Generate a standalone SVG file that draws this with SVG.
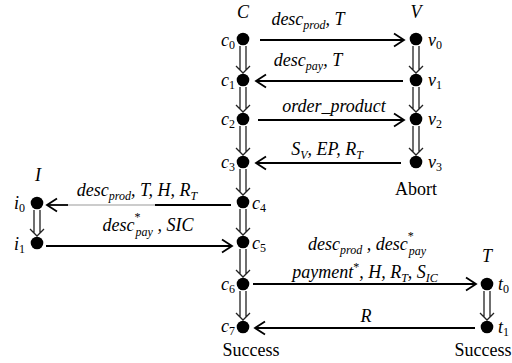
<svg xmlns="http://www.w3.org/2000/svg" width="512" height="363" viewBox="0 0 512 363">
<style>
text{font-family:"Liberation Serif","Times New Roman",serif;font-size:18px;fill:#000}
.it{font-style:italic}
.rm{font-style:normal}
.sb{font-size:12px}
.dot{fill:#000}
.h{stroke:#000;stroke-width:1.8;fill:none}
.d{stroke:#222;stroke-width:1.3;fill:none}
.lbl{text-anchor:middle}
</style>
<defs>
<marker id="ah" markerUnits="userSpaceOnUse" markerWidth="14" markerHeight="16" viewBox="0 0 14 16" refX="12" refY="8" orient="auto">
<path d="M2,1.5 L12,8 L2,14.5" fill="none" stroke="#000" stroke-width="1.8"/>
</marker>
</defs>
<rect width="512" height="363" fill="#fff"/>

<g id="connectors">
<path class="d" d="M240,46V70M246,46V70M236,66L243,73L250,66"/>
<path class="d" d="M240,87V109M246,87V109M236,105L243,112L250,105"/>
<path class="d" d="M240,126V152M246,126V152M236,148L243,155L250,148"/>
<path class="d" d="M240,169V192M246,169V192M236,188L243,195L250,188"/>
<path class="d" d="M240,209V232M246,209V232M236,228L243,235L250,228"/>
<path class="d" d="M240,249V274M246,249V274M236,270L243,277L250,270"/>
<path class="d" d="M240,291V317M246,291V317M236,313L243,320L250,313"/>
<path class="d" d="M413,46V70M419,46V70M409,66L416,73L423,66"/>
<path class="d" d="M413,87V109M419,87V109M409,105L416,112L423,105"/>
<path class="d" d="M413,126V152M419,126V152M409,148L416,155L423,148"/>
<path class="d" d="M34,210V233M40,210V233M30,229L37,236L44,229"/>
<path class="d" d="M484,291V317M490,291V317M480,313L487,320L494,313"/>
<line class="h" x1="260" y1="40" x2="404" y2="40" marker-end="url(#ah)"/>
<line class="h" x1="403" y1="81" x2="256" y2="81" marker-end="url(#ah)"/>
<line class="h" x1="258" y1="120" x2="404" y2="120" marker-end="url(#ah)"/>
<line class="h" x1="401" y1="163" x2="256" y2="163" marker-end="url(#ah)"/>
<line class="h" x1="231" y1="205" x2="155" y2="205"/>
<line x1="155" y1="205" x2="68" y2="205" stroke="#bbb" stroke-width="1.5"/>
<line class="h" x1="68" y1="205" x2="47" y2="205" marker-end="url(#ah)"/>
<line class="h" x1="46" y1="246" x2="232" y2="246" marker-end="url(#ah)"/>
<line class="h" x1="253" y1="284" x2="476" y2="284" marker-end="url(#ah)"/>
<line class="h" x1="475" y1="328" x2="255" y2="328" marker-end="url(#ah)"/>
</g>

<g id="C">
<text class="it lbl" x="243" y="18">C</text>
<circle class="dot" cx="243" cy="39" r="6.3"/><text class="it" x="235" y="46" text-anchor="end">c<tspan class="sb rm" dy="3">0</tspan></text>
<circle class="dot" cx="243" cy="80" r="6.3"/><text class="it" x="235" y="86" text-anchor="end">c<tspan class="sb rm" dy="3">1</tspan></text>
<circle class="dot" cx="243" cy="119" r="6.3"/><text class="it" x="235" y="125" text-anchor="end">c<tspan class="sb rm" dy="3">2</tspan></text>
<circle class="dot" cx="243" cy="162" r="6.3"/><text class="it" x="235" y="168" text-anchor="end">c<tspan class="sb rm" dy="3">3</tspan></text>
<circle class="dot" cx="243" cy="202" r="6.3"/><text class="it" x="252" y="209">c<tspan class="sb rm" dy="3">4</tspan></text>
<circle class="dot" cx="243" cy="242" r="6.3"/><text class="it" x="252" y="249">c<tspan class="sb rm" dy="3">5</tspan></text>
<circle class="dot" cx="243" cy="284" r="6.3"/><text class="it" x="235" y="290" text-anchor="end">c<tspan class="sb rm" dy="3">6</tspan></text>
<circle class="dot" cx="243" cy="327" r="6.3"/><text class="it" x="235" y="332" text-anchor="end">c<tspan class="sb rm" dy="3">7</tspan></text>
<text class="rm lbl" x="251" y="356">Success</text>
</g>

<g id="V">
<text class="it lbl" x="416" y="18">V</text>
<circle class="dot" cx="416" cy="39" r="6.3"/><text class="it" x="428" y="46">v<tspan class="sb rm" dy="3">0</tspan></text>
<circle class="dot" cx="416" cy="80" r="6.3"/><text class="it" x="428" y="86">v<tspan class="sb rm" dy="3">1</tspan></text>
<circle class="dot" cx="416" cy="119" r="6.3"/><text class="it" x="428" y="125">v<tspan class="sb rm" dy="3">2</tspan></text>
<circle class="dot" cx="416" cy="162" r="6.3"/><text class="it" x="428" y="168">v<tspan class="sb rm" dy="3">3</tspan></text>
<text class="rm lbl" x="416" y="195">Abort</text>
</g>

<g id="I">
<text class="it lbl" x="38" y="181">I</text>
<circle class="dot" cx="37" cy="203" r="6.3"/><text class="it" x="25" y="209" text-anchor="end">i<tspan class="sb rm" dy="3">0</tspan></text>
<circle class="dot" cx="37" cy="243" r="6.3"/><text class="it" x="25" y="250" text-anchor="end">i<tspan class="sb rm" dy="3">1</tspan></text>
</g>

<g id="T">
<text class="it lbl" x="487" y="262">T</text>
<circle class="dot" cx="487" cy="284" r="6.3"/><text class="it" x="498" y="290">t<tspan class="sb rm" dy="3">0</tspan></text>
<circle class="dot" cx="487" cy="327" r="6.3"/><text class="it" x="498" y="333">t<tspan class="sb rm" dy="3">1</tspan></text>
<text class="rm lbl" x="483" y="356">Success</text>
</g>

<g id="labels">
<text class="it lbl" x="308" y="25">desc<tspan class="sb" dy="4">prod</tspan><tspan dy="-4">, T</tspan></text>
<text class="it lbl" x="308" y="66">desc<tspan class="sb" dy="4">pay</tspan><tspan dy="-4">, T</tspan></text>
<text class="it lbl" x="334" y="112">order_product</text>
<text class="it lbl" x="327" y="155">S<tspan class="sb" dy="4">V</tspan><tspan dy="-4">, EP, R</tspan><tspan class="sb" dy="4">T</tspan></text>
<text class="it lbl" x="137" y="196">desc<tspan class="sb" dy="4">prod</tspan><tspan dy="-4">, T, H, R</tspan><tspan class="sb" dy="4">T</tspan></text>
<text class="it lbl" x="148" y="231">desc<tspan class="sb rm" dy="-10">*</tspan><tspan class="sb" dx="-5" dy="15">pay</tspan><tspan dy="-5"> ,  SIC</tspan></text>
<text class="it lbl" x="367" y="250">desc<tspan class="sb" dy="4">prod</tspan><tspan dy="-4"> ,  desc</tspan><tspan class="sb rm" dy="-10">*</tspan><tspan class="sb" dx="-5" dy="15">pay</tspan></text>
<text class="it lbl" x="365" y="278">payment<tspan class="sb rm" dy="-7">*</tspan><tspan dy="7">, H, R</tspan><tspan class="sb" dy="4">T</tspan><tspan dy="-4">, S</tspan><tspan class="sb" dy="4">IC</tspan></text>
<text class="it lbl" x="366" y="322">R</text>
</g>
</svg>
